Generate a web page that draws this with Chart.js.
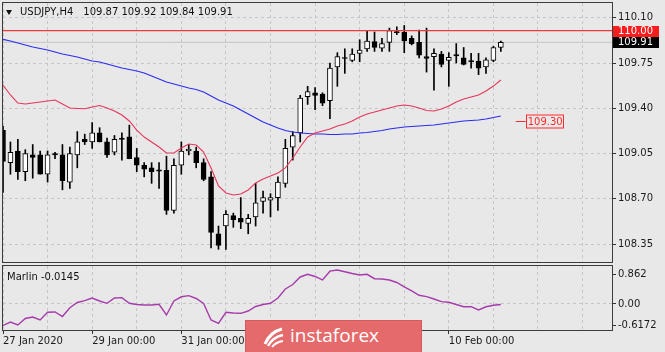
<!DOCTYPE html>
<html><head><meta charset="utf-8">
<script src="https://cdn.jsdelivr.net/npm/chart.js@4.4.1/dist/chart.umd.min.js"></script>
<style>
html,body{margin:0;padding:0;background:#e8e8e8;}
#wrap{position:relative;width:665px;height:352px;overflow:hidden;background:#e8e8e8;font-family:"DejaVu Sans",sans-serif;}
#c1{position:absolute;left:0;top:0;}
#c2{position:absolute;left:0;top:263px;}
#tri{position:absolute;left:6px;top:10px;width:0;height:0;border-left:3.5px solid transparent;border-right:3.5px solid transparent;border-top:5px solid #111;}
#title{position:absolute;left:20px;top:6px;font-size:10px;color:#111;white-space:pre;}
#sub{position:absolute;left:7px;top:271px;font-size:10px;color:#111;white-space:pre;}
#wm{position:absolute;left:245px;top:320px;width:177px;height:34px;background:#e46a6b;box-shadow:0 0 0 1px #d85a5c inset;}
#wm span{position:absolute;left:45px;top:2px;font-family:"Open Sans",sans-serif;font-size:19px;color:#fff;}
#logo{position:absolute;left:17px;top:6px;width:24px;height:22px;}
</style></head>
<body>
<div id="wrap">
<canvas id="c1" width="665" height="264"></canvas>
<canvas id="c2" width="665" height="89"></canvas>
<div id="tri"></div>
<div id="title"></div>
<div id="sub"></div>
<div id="wm"><svg id="logo" viewBox="0 0 24 22"><path d="M3 18 Q8 6 20 3" stroke="#fff" stroke-width="3" fill="none"/><path d="M6 20 Q11 11 21 9" stroke="#fff" stroke-width="2.4" fill="none"/><path d="M10 21 Q14 16 21 15" stroke="#fff" stroke-width="2" fill="none"/></svg><span>instaforex</span></div>
</div>
<script>
// ---- data ----
const symbol = 'USDJPY,H4';
const openP  = [109.23,108.98,109.07,108.91,109.04,109.04,108.89,109.05,109.04,108.83,109.04,109.16,109.14,109.21,109.14,109.06,109.17,109.18,109.02,108.96,108.94,108.925,108.92,108.61,108.96,109.07,109.07,108.98,108.87,108.43,108.49,108.57,108.55,108.51,108.56,108.68,108.69,108.71,108.82,109.10,109.21,109.49,109.52,109.51,109.46,109.72,109.79,109.77,109.825,109.86,109.915,109.865,109.91,109.99,109.99,109.94,109.91,109.80,109.80,109.82,109.77,109.815,109.79,109.768,109.765,109.72,109.77,109.87];
const highP  = [109.26,109.14,109.16,109.08,109.12,109.07,109.07,109.06,109.12,109.10,109.22,109.20,109.29,109.25,109.17,109.19,109.21,109.27,109.09,108.98,108.98,108.98,109.03,109.01,109.14,109.12,109.10,109.01,108.91,108.49,108.61,108.59,108.71,108.58,108.82,108.76,108.74,108.87,109.16,109.22,109.50,109.57,109.56,109.52,109.75,109.83,109.86,109.86,109.93,110.00,109.99,109.94,110.02,110.03,110.04,109.96,110.005,110.02,109.86,109.84,109.83,109.90,109.87,109.825,109.825,109.79,109.88,109.92];
const lowP   = [108.75,108.89,108.85,108.84,108.86,108.89,108.83,109.01,108.77,108.78,108.94,109.12,109.09,109.14,109.02,109.04,109.00,109.01,108.91,108.87,108.82,108.78,108.58,108.59,108.89,109.04,108.94,108.84,108.32,108.31,108.31,108.48,108.47,108.43,108.49,108.59,108.56,108.61,108.79,109.00,109.14,109.43,109.39,109.42,109.32,109.57,109.67,109.76,109.76,109.84,109.84,109.84,109.84,109.97,109.83,109.89,109.79,109.68,109.54,109.72,109.57,109.75,109.735,109.71,109.66,109.67,109.76,109.84];
const closeP = [108.99,109.06,108.91,109.05,109.02,108.89,109.04,109.04,108.84,109.05,109.14,109.14,109.21,109.14,109.04,109.16,109.16,109.01,108.96,108.93,108.91,108.915,108.61,108.96,109.07,109.085,108.98,108.85,108.44,108.34,108.58,108.54,108.52,108.55,108.67,108.71,108.71,108.83,109.09,109.19,109.48,109.53,109.50,109.44,109.71,109.80,109.785,109.82,109.85,109.92,109.87,109.90,110.00,109.985,109.92,109.90,109.81,109.785,109.825,109.74,109.795,109.805,109.74,109.758,109.71,109.775,109.87,109.91];
const maFast = [109.580,109.503,109.441,109.433,109.441,109.449,109.457,109.464,109.433,109.402,109.399,109.397,109.410,109.422,109.402,109.379,109.348,109.302,109.232,109.178,109.140,109.101,109.055,109.055,109.093,109.124,109.116,109.062,108.939,108.800,108.746,108.730,108.738,108.769,108.823,108.854,108.877,108.900,108.939,109.016,109.101,109.178,109.209,109.225,109.240,109.263,109.279,109.302,109.333,109.356,109.371,109.387,109.402,109.418,109.426,109.418,109.402,109.383,109.379,109.395,109.418,109.449,109.472,109.487,109.503,109.534,109.572,109.619];
const maSlow = [109.933,109.920,109.905,109.889,109.874,109.862,109.851,109.835,109.820,109.808,109.797,109.781,109.766,109.758,109.742,109.727,109.712,109.700,109.688,109.673,109.650,109.626,109.603,109.588,109.572,109.557,109.545,109.526,109.495,109.464,109.441,109.418,109.387,109.356,109.325,109.294,109.271,109.248,109.229,109.217,109.209,109.205,109.201,109.201,109.198,109.198,109.201,109.201,109.209,109.213,109.221,109.229,109.240,109.248,109.256,109.259,109.263,109.267,109.271,109.279,109.287,109.294,109.302,109.306,109.310,109.317,109.329,109.341];
const marlin = [-0.623,-0.522,-0.609,-0.420,-0.377,-0.464,-0.241,-0.232,-0.362,-0.107,0.043,0.096,0.174,0.087,0.020,0.174,0.183,0.020,-0.014,-0.029,-0.029,-0.009,-0.319,0.087,0.209,0.241,0.159,0.014,-0.464,-0.559,-0.241,-0.261,-0.270,-0.203,-0.072,-0.014,0.020,0.174,0.435,0.565,0.783,0.861,0.797,0.696,0.951,0.986,0.933,0.884,0.841,0.861,0.733,0.725,0.696,0.623,0.499,0.377,0.252,0.212,0.145,0.067,0.049,-0.014,-0.078,-0.078,-0.174,-0.081,-0.038,-0.0145];
const levelPrice = 110.00;
const markPrice = 109.30;
const markBar = 69;
const priceTicks = [108.35,108.70,109.05,109.40,109.75,110.10];
const priceTickLabels = ['108.35','108.70','109.05','109.40','109.75','110.10'];
const oscTicks = [-0.6172,0,0.862];
const oscTickLabels = ['-0.6172','0.00','0.862'];
const gridBars = [0,6,12,18,24,30,36,42,48,54,60,66,72,78];
const dateTickBars = [0,12,24,60];
const dateTickLabels = ['27 Jan 2020','29 Jan 00:00','31 Jan 00:00','10 Feb 00:00'];

const n = closeP.length;
const last = n-1;
document.getElementById('title').innerHTML = symbol + '<span style="margin-left:10px"></span>' +
  [openP[last],highP[last],lowP[last],closeP[last]].map(v=>v.toFixed(2)).join(' ');
document.getElementById('sub').textContent = 'Marlin ' + marlin[last].toFixed(4);

const FONT = {family:'"DejaVu Sans", sans-serif', size:10};
const X_MIN = 0, X_MAX = 81.96;
const idx = [...Array(n).keys()];
const wicks = idx.map(i=>({x:i, y:[lowP[i], highP[i]]}));
const bodies = idx.map(i=>({x:i, y:[openP[i], closeP[i]]}));
const bodyFill = idx.map(i=> closeP[i] >= openP[i] ? '#ffffff' : '#000000');

const zeroPad = s => { s.paddingTop=0; s.paddingBottom=0; s.paddingLeft=0; s.paddingRight=0; };

const overlay1 = {
  id:'overlay1',
  afterDraw(chart){
    const {ctx, chartArea:a, scales:{x,y}} = chart;
    ctx.save();
    ctx.strokeStyle='#3c3c3c'; ctx.lineWidth=1;
    ctx.strokeRect(a.left-0.5, a.top-0.5, a.right-a.left+1, a.bottom-a.top+1);
    ctx.font='10px "DejaVu Sans"'; ctx.textBaseline='middle'; ctx.textAlign='left';
    const box=(val,bg)=>{
      const py=Math.round(y.getPixelForValue(val));
      ctx.fillStyle=bg; ctx.fillRect(a.right+1, py-5, 46, 11);
      ctx.fillStyle='#ffffff'; ctx.fillText(val.toFixed(2), a.right+6, py+0.5);
    };
    box(levelPrice,'#ff1c1c');
    box(closeP[last],'#000000');
    const mx=x.getPixelForValue(markBar), my=Math.round(y.getPixelForValue(markPrice))+0.5;
    ctx.strokeStyle='#ff2a2a';
    ctx.beginPath(); ctx.moveTo(mx,my); ctx.lineTo(mx+10,my); ctx.stroke();
    ctx.strokeRect(Math.round(mx+10)+0.5, my-6.5, 37, 13);
    ctx.fillStyle='#ff2a2a'; ctx.fillText(markPrice.toFixed(2), mx+12, my+0.5);
    ctx.restore();
  }
};
const overlay2 = {
  id:'overlay2',
  afterDraw(chart){
    const {ctx, chartArea:a} = chart;
    ctx.save();
    ctx.strokeStyle='#3c3c3c'; ctx.lineWidth=1;
    ctx.strokeRect(a.left-0.5, a.top-0.5, a.right-a.left+1, a.bottom-a.top+1);
    ctx.restore();
  }
};

new Chart(document.getElementById('c1'), {
  type:'bar',
  data:{datasets:[
    {type:'line', data:[{x:X_MIN,y:closeP[last]},{x:X_MAX,y:closeP[last]}], borderColor:'#c4c4c4', borderWidth:1, pointRadius:0, order:6},
    {data:wicks, backgroundColor:'#000', borderWidth:0, barThickness:1, grouped:false, order:5},
    {data:bodies, backgroundColor:bodyFill, borderColor:'#000', borderWidth:1, borderSkipped:false, barThickness:5, minBarLength:1, grouped:false, order:4},
    {type:'line', data:idx.map(i=>({x:i,y:maSlow[i]})), borderColor:'#2b2bf2', borderWidth:1.1, pointRadius:0, tension:0, order:3},
    {type:'line', data:idx.map(i=>({x:i,y:maFast[i]})), borderColor:'#e6355a', borderWidth:1.1, pointRadius:0, tension:0, order:2},
    {type:'line', data:[{x:X_MIN,y:levelPrice},{x:X_MAX,y:levelPrice}], borderColor:'#ec3b3b', borderWidth:1.2, pointRadius:0, order:1}
  ]},
  options:{
    responsive:false, animation:false, events:[],
    layout:{padding:{left:3,top:3,right:0,bottom:2}},
    plugins:{legend:{display:false}, tooltip:{enabled:false}},
    scales:{
      x:{type:'linear', min:X_MIN, max:X_MAX, offset:false,
         afterBuildTicks:s=>{s.ticks=gridBars.map(v=>({value:v}));},
         ticks:{display:false},
         grid:{color:'#c6c6c6', drawTicks:false, offset:false},
         border:{display:false, dash:[3,3]},
         afterFit:s=>{s.height=0; zeroPad(s);}},
      y:{position:'right', min:108.212, max:110.214,
         afterBuildTicks:s=>{s.ticks=priceTicks.map(v=>({value:v}));},
         ticks:{callback:(v,i)=>priceTickLabels[i], font:FONT, color:'#1a1a1a', padding:2},
         grid:{color:'#c6c6c6', tickColor:'#333', tickLength:4},
         border:{display:false, dash:[3,3]},
         afterFit:s=>{s.width=53; zeroPad(s);}}
    }
  },
  plugins:[overlay1]
});

new Chart(document.getElementById('c2'), {
  type:'line',
  data:{datasets:[
    {data:idx.map(i=>({x:i,y:marlin[i]})), borderColor:'#a63cab', borderWidth:1.4, pointRadius:0, tension:0}
  ]},
  options:{
    responsive:false, animation:false, events:[],
    layout:{padding:{left:3,top:3,right:0,bottom:0}},
    plugins:{legend:{display:false}, tooltip:{enabled:false}},
    scales:{
      x:{type:'linear', min:X_MIN, max:X_MAX, offset:false,
         afterBuildTicks:s=>{s.ticks=gridBars.map(v=>({value:v}));},
         ticks:{autoSkip:false, maxRotation:0, align:'start', padding:1, font:FONT, color:'#1a1a1a',
                callback:(v)=>{const k=dateTickBars.indexOf(v); return k>=0?dateTickLabels[k]:'';}},
         grid:{color:'#c6c6c6', tickLength:4, offset:false, tickColor:c=>dateTickBars.includes(c.tick && c.tick.value)?'#333':'rgba(0,0,0,0)'},
         border:{display:false, dash:[3,3]},
         afterFit:s=>{s.height=22; zeroPad(s);}},
      y:{position:'right', min:-0.754, max:1.101,
         afterBuildTicks:s=>{s.ticks=oscTicks.map(v=>({value:v}));},
         ticks:{callback:(v,i)=>oscTickLabels[i], font:FONT, color:'#1a1a1a', padding:2},
         grid:{color:c=>(c.tick && c.tick.value===0)?'#c6c6c6':'rgba(0,0,0,0)', tickColor:'#333', tickLength:4},
         border:{display:false, dash:[3,3]},
         afterFit:s=>{s.width=53; zeroPad(s);}}
    }
  },
  plugins:[overlay2]
});
</script>
</body></html>
